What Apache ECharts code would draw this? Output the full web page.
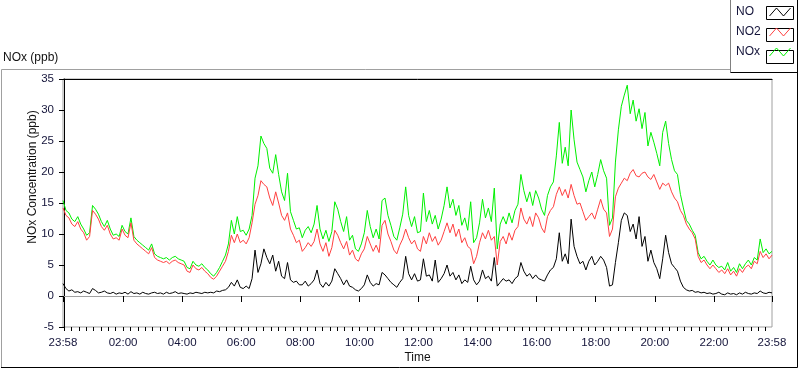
<!DOCTYPE html>
<html>
<head>
<meta charset="utf-8">
<script src="https://cdn.jsdelivr.net/npm/echarts@6/dist/echarts.min.js"></script>
<style>
html,body{margin:0;padding:0;background:#fff;}
#c{width:800px;height:369px;}
</style>
</head>
<body>
<div id="c"></div>
<script>
// Sampling: minutes relative to midnight, first sample at 23:58 of previous day, every 6 min
const startMinute = -2;
const stepMinutes = 6;

const seriesNames = ['NO', 'NO2', 'NOx'];

const noValues = [
2.0,1.2,0.8,1.0,0.6,0.7,0.5,0.8,0.6,0.4,
1.2,0.9,0.5,0.6,0.8,0.5,0.4,0.6,0.3,0.5,
0.4,0.6,0.3,0.7,0.4,0.5,0.3,0.6,0.4,0.3,
0.5,0.6,0.4,0.5,0.3,0.6,0.4,0.5,0.7,0.4,
0.5,0.4,0.3,0.5,0.4,0.6,0.5,0.4,0.6,0.5,
0.6,0.5,0.8,0.7,0.9,1.0,1.4,2.2,1.6,2.6,
1.4,1.2,1.6,1.2,2.8,7.4,3.8,5.2,7.6,6.2,
5.2,6.6,4.0,5.6,3.2,2.8,5.4,2.6,2.2,2.4,
1.8,1.8,2.4,1.6,2.0,2.6,4.2,2.0,1.4,2.2,
1.6,2.4,4.4,3.6,2.8,1.8,2.6,1.6,1.4,1.0,
0.8,1.2,1.8,3.4,2.2,1.6,2.0,1.8,3.8,3.4,
2.8,2.2,1.8,1.4,2.2,2.8,6.4,3.6,2.6,3.6,
2.4,2.6,6.0,3.2,3.4,2.4,5.8,2.2,2.8,3.6,
5.0,3.2,3.8,2.6,3.4,2.0,2.6,2.2,4.8,2.6,
1.8,2.4,4.2,2.8,3.2,2.4,6.2,1.6,2.2,2.8,
2.4,2.6,2.0,2.8,3.2,5.4,4.0,3.2,3.6,2.8,
3.4,2.8,2.6,2.4,3.4,4.2,4.6,6.0,10.2,5.6,
6.8,5.2,12.4,8.0,6.4,5.2,5.6,4.2,5.6,6.4,
5.0,5.6,6.4,5.8,4.6,1.6,1.8,5.4,8.6,12.2,
13.4,13.0,10.4,11.6,9.2,12.8,8.0,9.6,5.6,7.4,
5.4,4.4,2.8,6.0,9.8,7.0,5.2,4.6,4.0,2.4,
1.4,1.0,0.8,0.9,0.6,0.7,0.5,0.6,0.4,0.5,
0.3,0.4,0.6,0.3,0.2,0.5,0.3,0.4,0.2,0.5,
0.3,0.6,0.4,0.3,0.5,0.4,0.8,0.5,0.4,0.6,0.5
];

const no2Values = [
14.2,13.0,12.6,11.6,11.2,12.0,10.8,10.2,9.0,9.6,
13.8,13.2,12.4,11.2,10.6,11.4,10.0,9.2,9.4,9.0,
10.8,9.8,9.4,11.8,9.0,8.4,8.0,7.6,7.2,6.8,
7.8,6.2,5.8,5.6,5.4,5.6,5.2,5.6,5.8,5.4,
5.2,5.0,4.0,3.8,5.0,4.4,4.2,4.6,4.0,3.6,
3.0,2.7,3.2,4.0,4.8,5.6,7.2,9.8,8.6,10.0,
8.6,9.0,8.4,9.4,11.8,14.8,16.2,18.6,18.0,17.6,
15.8,14.6,16.8,15.0,13.0,12.2,13.4,10.8,9.8,8.6,
9.0,7.2,7.8,8.6,8.0,8.8,10.8,8.4,7.2,8.6,
6.4,7.8,10.6,9.8,8.6,7.6,8.8,6.6,7.4,6.0,
5.6,6.8,7.6,9.6,8.4,7.2,8.2,7.0,11.4,12.2,
10.0,8.8,7.4,6.8,8.2,9.2,10.8,9.4,8.4,9.0,
7.6,7.2,9.6,8.4,10.2,8.8,9.6,8.2,9.0,10.4,
11.8,10.2,11.6,9.6,10.8,8.6,9.4,8.0,7.6,5.2,
6.4,8.6,10.2,9.2,10.6,9.0,9.6,5.0,8.8,9.6,
8.4,10.2,9.0,10.6,11.2,14.2,12.4,11.6,12.8,11.2,
13.4,12.6,11.0,10.2,12.8,13.8,14.4,16.4,17.6,16.2,
17.2,15.8,18.0,16.2,14.8,15.0,13.6,12.2,12.8,13.4,
12.4,14.0,15.6,14.0,13.4,9.6,10.8,16.0,17.4,18.2,
19.0,18.6,19.8,20.4,19.4,19.2,19.8,20.0,19.2,18.8,
19.6,18.4,17.2,18.2,17.8,18.2,16.8,15.8,15.2,13.8,
13.0,11.6,10.8,10.2,9.2,6.4,5.4,5.8,5.0,4.4,
5.0,4.4,3.8,4.2,3.6,4.4,3.4,4.0,3.2,4.4,
3.8,4.6,5.0,4.4,5.6,5.2,7.2,6.2,6.8,6.0,6.6
];

const noxValues = [
15.4,13.8,13.4,12.4,12.0,12.8,11.6,10.8,9.8,10.2,
14.6,14.0,13.2,12.0,11.2,12.2,10.8,9.8,10.0,9.6,
11.4,10.4,10.0,12.6,9.6,9.0,8.6,8.2,7.8,7.4,
8.4,6.8,6.4,6.2,6.0,6.2,5.8,6.2,6.4,6.0,
5.8,5.6,4.6,4.4,5.6,5.0,4.8,5.2,4.6,4.2,
3.6,3.2,3.8,4.6,5.6,6.6,8.4,12.2,10.0,12.8,
10.4,10.6,9.8,10.8,13.0,19.0,21.0,25.8,24.6,23.8,
20.6,19.8,22.8,19.6,16.8,15.4,19.8,13.6,12.2,10.8,
11.0,9.4,10.6,11.2,10.2,11.6,14.6,10.8,9.2,10.6,
8.8,10.4,15.2,14.0,12.0,10.4,12.8,9.0,9.8,7.6,
7.2,8.4,10.2,13.8,11.2,9.4,10.8,9.2,15.4,15.8,
13.0,11.4,9.6,9.0,11.0,13.2,17.6,13.0,11.2,12.8,
10.2,10.4,16.6,12.0,13.8,11.6,13.0,10.8,12.4,14.6,
17.6,14.2,15.6,13.0,14.6,11.4,12.6,10.6,15.2,8.6,
9.4,11.8,15.6,12.6,14.2,12.0,17.4,7.6,11.6,12.8,
11.6,13.4,11.8,13.8,14.8,19.6,17.0,15.2,16.8,14.6,
17.0,15.8,14.0,13.0,16.2,17.6,18.4,22.6,28.0,21.4,
24.0,21.0,30.0,25.2,21.6,20.4,19.2,16.8,18.6,20.0,
17.6,19.6,22.0,20.2,19.0,11.4,12.6,21.6,26.8,30.6,
32.4,34.0,29.4,31.6,28.2,30.2,27.0,29.6,24.2,26.4,
24.8,23.0,21.0,26.4,28.2,24.6,22.0,20.2,19.6,16.4,
14.2,12.2,11.6,10.6,9.8,7.0,6.0,6.4,5.6,5.0,
5.8,5.0,4.6,4.8,4.2,5.4,4.0,4.6,3.8,5.2,
4.4,5.2,5.8,5.0,6.2,5.8,9.2,7.0,7.6,6.8,7.2
];

// Axis ticks (minutes relative to midnight)
const xMin = -2, xMax = 1438;
const xLabelMinutes = [-2,120,240,360,480,600,720,840,960,1080,1200,1320,1438];
const xMinorMinutes = [];
for (let m = 0; m < 1440; m += 15) xMinorMinutes.push(m);
const yMin = -5, yMax = 35, yInterval = 5;

function fmtMinute(v){
  let m = ((Math.round(v) % 1440) + 1440) % 1440;
  const h = Math.floor(m/60), mm = m % 60;
  return (h<10?'0':'')+h+':'+(mm<10?'0':'')+mm;
}
function pairs(vals){ return vals.map((v,i)=>[startMinute + i*stepMinutes, v]); }

const FONT = '"Liberation Sans", Arial, sans-serif';
const LABEL = '#14143a';
const colors = {NO:'#000000', NO2:'#ff4040', NOx:'#00f000'};

const chart = echarts.init(document.getElementById('c'), null, {renderer:'canvas'});
const option = {
  animation:false,
  backgroundColor:'#ffffff',
  textStyle:{fontFamily:FONT},
  title:{text:'NOx (ppb)', left:3, top:52, padding:0,
    textStyle:{fontSize:12, fontWeight:'normal', color:'#111', fontFamily:FONT}},
  legend:{
    orient:'vertical', right:9, top:6, padding:0, align:'right',
    itemWidth:22, itemHeight:8, itemGap:8,
    icon:'path://M0,8L7,0L14,8L21,0',
    formatter:n=>'{a|'+n+'}',
    textStyle:{fontFamily:FONT, fontSize:12, color:LABEL,
      rich:{a:{width:28, align:'left', lineHeight:14, fontSize:12, color:LABEL, fontFamily:FONT}}},
    data:seriesNames.map(n=>({name:n, itemStyle:{color:'transparent', borderColor:colors[n], borderWidth:1}}))
  },
  grid:{left:63, right:28, top:79, bottom:40, show:true, borderColor:'#a0a0a0', borderWidth:1, backgroundColor:'#fff'},
  xAxis:[
    {type:'value', min:xMin, max:xMax, position:'bottom',
      name:'Time', nameLocation:'middle', nameGap:25, nameMoveOverlap:false,
      nameTextStyle:{fontSize:12, color:'#111', fontFamily:FONT},
      axisLine:{show:true, lineStyle:{color:'#a0a0a0', width:1}},
      axisTick:{show:true, customValues:xLabelMinutes, length:6, lineStyle:{color:'#000', width:1}},
      axisLabel:{show:true, customValues:xLabelMinutes, formatter:fmtMinute, margin:10, fontSize:11.5, color:LABEL, fontFamily:FONT},
      splitLine:{show:false}},
    {type:'value', min:xMin, max:xMax, position:'bottom',
      axisLine:{show:false},
      axisTick:{show:true, customValues:xMinorMinutes, length:4, lineStyle:{color:'#000', width:1}},
      axisLabel:{show:false}, splitLine:{show:false}},
    {type:'value', min:xMin, max:xMax, position:'top',
      axisLine:{show:true, lineStyle:{color:'#000', width:1}},
      axisTick:{show:false}, axisLabel:{show:false}, splitLine:{show:false}}
  ],
  yAxis:{type:'value', min:yMin, max:yMax, interval:yInterval,
    name:'NOx Concentration (ppb)', nameLocation:'middle', nameGap:24, nameMoveOverlap:false,
    nameTextStyle:{fontSize:12, color:'#111', fontFamily:FONT, padding:[0,0,0,52]},
    axisLine:{show:true, lineStyle:{color:'#000', width:1}},
    axisTick:{show:true, length:5, lineStyle:{color:'#000'}},
    axisLabel:{margin:9, fontSize:11.5, color:LABEL, fontFamily:FONT},
    splitLine:{show:false}},
  series:[
    {name:'NOx', type:'line', data:pairs(noxValues), showSymbol:false, symbol:'none', z:2,
      lineStyle:{color:colors.NOx, width:1}, itemStyle:{color:colors.NOx}},
    {name:'NO2', type:'line', data:pairs(no2Values), showSymbol:false, symbol:'none', z:3,
      lineStyle:{color:colors.NO2, width:1}, itemStyle:{color:colors.NO2}},
    {name:'NO', type:'line', data:pairs(noValues), showSymbol:false, symbol:'none', z:4,
      lineStyle:{color:colors.NO, width:1}, itemStyle:{color:colors.NO}}
  ],
  graphic:[
    {type:'polyline', silent:true, shape:{points:[[1.5,367],[1.5,69.5],[730,69.5]]}, style:{stroke:'#a0a0a0', lineWidth:1, fill:null}},
    {type:'polyline', silent:true, shape:{points:[[1,367.5],[797.5,367.5],[797.5,72]]}, style:{stroke:'#000', lineWidth:1, fill:null}},
    {type:'polyline', silent:true, shape:{points:[[730.5,0],[730.5,72.5]]}, style:{stroke:'#808080', lineWidth:1, fill:null}},
    {type:'polyline', silent:true, shape:{points:[[730.5,72.5],[797.5,72.5],[797.5,0]]}, style:{stroke:'#000', lineWidth:1, fill:null}},
    {type:'rect', silent:true, shape:{x:766.5, y:6.5, width:27, height:13}, style:{stroke:'#000', fill:null, lineWidth:1}},
    {type:'rect', silent:true, shape:{x:766.5, y:28.5, width:27, height:13}, style:{stroke:'#000', fill:null, lineWidth:1}},
    {type:'rect', silent:true, shape:{x:766.5, y:50.5, width:27, height:13}, style:{stroke:'#000', fill:null, lineWidth:1}}
  ]
};
chart.setOption(option);
</script>
</body>
</html>
